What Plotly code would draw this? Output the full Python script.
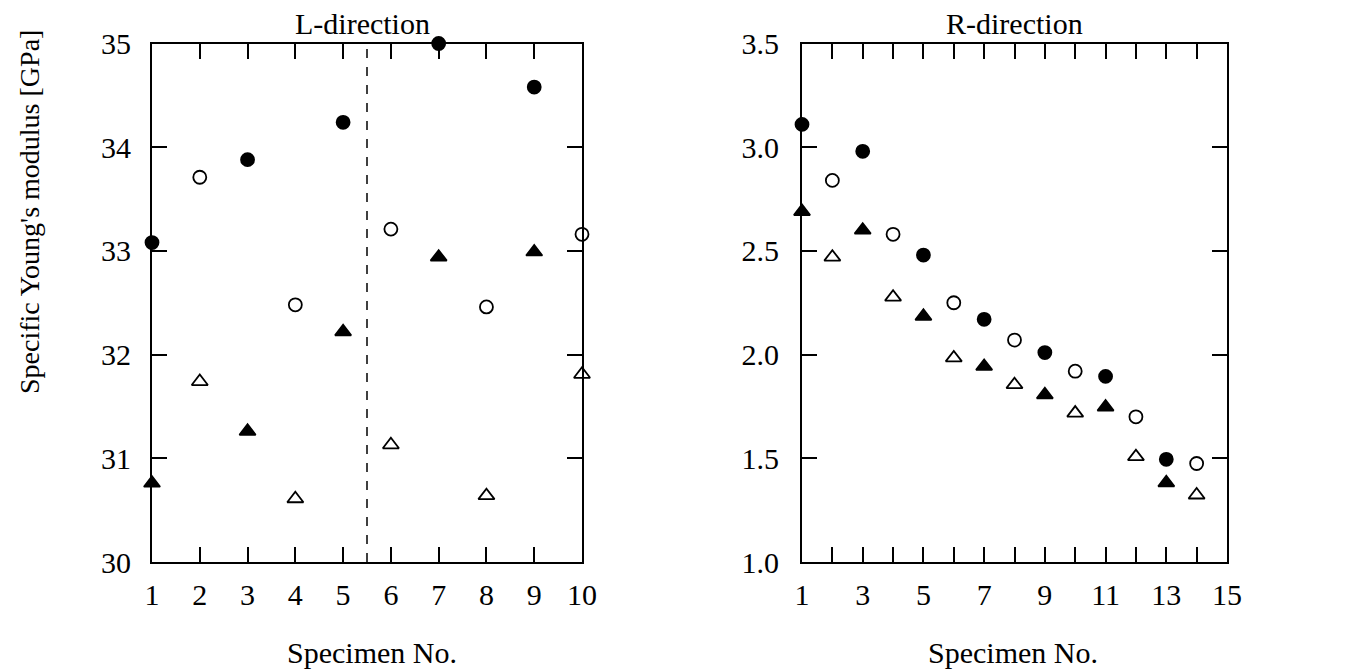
import plotly.graph_objects as go

W, H = 1359, 671
FONT = "Liberation Serif"

# ---- L-direction data ----
L_fc_x = [1, 3, 5, 7, 9]
L_fc_y = [33.08, 33.88, 34.24, 35.0, 34.58]
L_oc_x = [2, 4, 6, 8, 10]
L_oc_y = [33.71, 32.48, 33.21, 32.46, 33.16]
L_ft_x = [1, 3, 5, 7, 9]
L_ft_y = [30.76, 31.26, 32.22, 32.94, 32.99]
L_ot_x = [2, 4, 6, 8, 10]
L_ot_y = [31.74, 30.61, 31.13, 30.64, 31.81]

# ---- R-direction data ----
R_fc_x = [1, 3, 5, 7, 9, 11, 13]
R_fc_y = [3.11, 2.98, 2.48, 2.17, 2.01, 1.895, 1.495]
R_oc_x = [2, 4, 6, 8, 10, 12, 14]
R_oc_y = [2.84, 2.58, 2.25, 2.07, 1.92, 1.70, 1.475]
R_ft_x = [1, 3, 5, 7, 9, 11, 13]
R_ft_y = [2.69, 2.60, 2.185, 1.943, 1.806, 1.747, 1.382]
R_ot_x = [2, 4, 6, 8, 10, 12, 14]
R_ot_y = [2.47, 2.277, 1.984, 1.855, 1.718, 1.508, 1.323]

L_xticks = list(range(1, 11))
L_xlabels = [str(v) for v in L_xticks]
R_xticks = list(range(1, 16))
R_xlabels = [str(v) if v % 2 == 1 else "" for v in R_xticks]
L_yticks = [30, 31, 32, 33, 34, 35]
R_yticks = [1.0, 1.5, 2.0, 2.5, 3.0, 3.5]
R_ylabels = ["%.1f" % v for v in R_yticks]

fig = go.Figure()

def add(x, y, sym, size, xa, ya):
    fig.add_trace(go.Scatter(
        x=x, y=y, mode="markers", xaxis=xa, yaxis=ya, cliponaxis=False,
        showlegend=False,
        marker=dict(symbol=sym, size=size, color="black",
                    line=dict(color="black", width=1.8))))

add(L_fc_x, L_fc_y, "circle", 13, "x", "y")
add(L_oc_x, L_oc_y, "circle-open", 13, "x", "y")
add(L_ft_x, L_ft_y, "triangle-up", 14, "x", "y")
add(L_ot_x, L_ot_y, "triangle-up-open", 14, "x", "y")
add(R_fc_x, R_fc_y, "circle", 13, "x2", "y2")
add(R_oc_x, R_oc_y, "circle-open", 13, "x2", "y2")
add(R_ft_x, R_ft_y, "triangle-up", 14, "x2", "y2")
add(R_ot_x, R_ot_y, "triangle-up-open", 14, "x2", "y2")

ydom = [(H - 562) / H, (H - 43.5) / H]
axis_common = dict(showline=True, linecolor="black", linewidth=2, mirror="ticks",
                   ticks="inside", ticklen=15, tickwidth=2, tickcolor="black",
                   showgrid=False, zeroline=False,
                   tickfont=dict(family=FONT, size=30, color="black"))

fig.update_layout(
    width=W, height=H, margin=dict(l=0, r=0, t=0, b=0, autoexpand=False),
    paper_bgcolor="white", plot_bgcolor="white",
    font=dict(family=FONT, color="black"),
    xaxis=dict(domain=[152 / W, 582 / W], range=[1, 10], anchor="y",
               tickmode="array", tickvals=L_xticks, ticktext=L_xlabels,
               ticklabelstandoff=5, **axis_common),
    yaxis=dict(domain=ydom, range=[30, 35], anchor="x",
               tickmode="array", tickvals=L_yticks, ticklabelstandoff=13,
               **axis_common),
    xaxis2=dict(domain=[802 / W, 1227 / W], range=[1, 15], anchor="y2",
                tickmode="array", tickvals=R_xticks, ticktext=R_xlabels,
                ticklabelstandoff=5, **axis_common),
    yaxis2=dict(domain=ydom, range=[1.0, 3.5], anchor="x2",
                tickmode="array", tickvals=R_yticks, ticktext=R_ylabels,
                ticklabelstandoff=15, **axis_common),
)

fig.add_shape(type="line", xref="x", yref="y domain", x0=5.5, x1=5.5, y0=0, y1=1,
              line=dict(color="black", width=1.5, dash="dash"))

ann_font = dict(family=FONT, size=30, color="black")
fig.add_annotation(text="L-direction", x=362 / W, y=1 - 23 / H, xref="paper", yref="paper",
                   showarrow=False, font=ann_font, xanchor="center", yanchor="middle")
fig.add_annotation(text="R-direction", x=1014 / W, y=1 - 23 / H, xref="paper", yref="paper",
                   showarrow=False, font=ann_font, xanchor="center", yanchor="middle")
fig.add_annotation(text="Specimen No.", x=372 / W, y=1 - 652 / H, xref="paper", yref="paper",
                   showarrow=False, font=ann_font, xanchor="center", yanchor="middle")
fig.add_annotation(text="Specimen No.", x=1013 / W, y=1 - 652 / H, xref="paper", yref="paper",
                   showarrow=False, font=ann_font, xanchor="center", yanchor="middle")
fig.add_annotation(text="Specific Young's modulus [GPa]", x=30 / W, y=1 - 212 / H,
                   xref="paper", yref="paper", showarrow=False, textangle=-90,
                   font=dict(family=FONT, size=28, color="black"),
                   xanchor="center", yanchor="middle")

fig.write_html("out.html")
